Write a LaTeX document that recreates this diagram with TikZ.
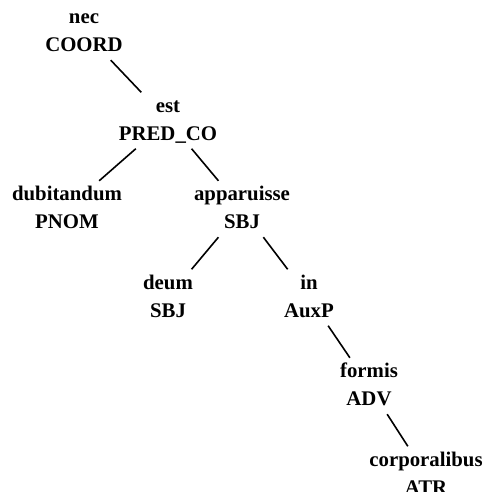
\documentclass[tikz,border=0pt]{standalone}
\usepackage{fontspec}
\setmainfont{Liberation Serif}
\newcommand{\treelab}[2]{\strut #1\\\strut #2}
\begin{document}
\begin{tikzpicture}[x=1pt,y=-1pt,
  tnode/.style={font=\fontsize{20.8}{28}\selectfont\bfseries, align=center, inner sep=0pt},
  edge/.style={line width=1.6pt}]
\useasboundingbox (0,0) rectangle (484,492);
\clip (0,0) rectangle (484,492);
\node[tnode] (nec) at (84,32) {\treelab{nec}{COORD}};
\node[tnode] (est) at (168,120.5) {\treelab{est}{PRED\_CO}};
\node[tnode] (dub) at (67,209) {\treelab{dubitandum}{PNOM}};
\node[tnode] (app) at (242,209) {\treelab{apparuisse}{SBJ}};
\node[tnode] (deum) at (168,297.5) {\treelab{deum}{SBJ}};
\node[tnode] (in) at (309,297.5) {\treelab{in}{AuxP}};
\node[tnode] (formis) at (369,386) {\treelab{formis}{ADV}};
\node[tnode] (corp) at (426,474.5) {\treelab{corporalibus}{ATR}};
\draw[edge] (nec) -- (est);
\draw[edge] (est) -- (dub);
\draw[edge] (est) -- (app);
\draw[edge] (app) -- (deum);
\draw[edge] (app) -- (in);
\draw[edge] (in) -- (formis);
\draw[edge] (formis) -- (corp);
\end{tikzpicture}
\end{document}
